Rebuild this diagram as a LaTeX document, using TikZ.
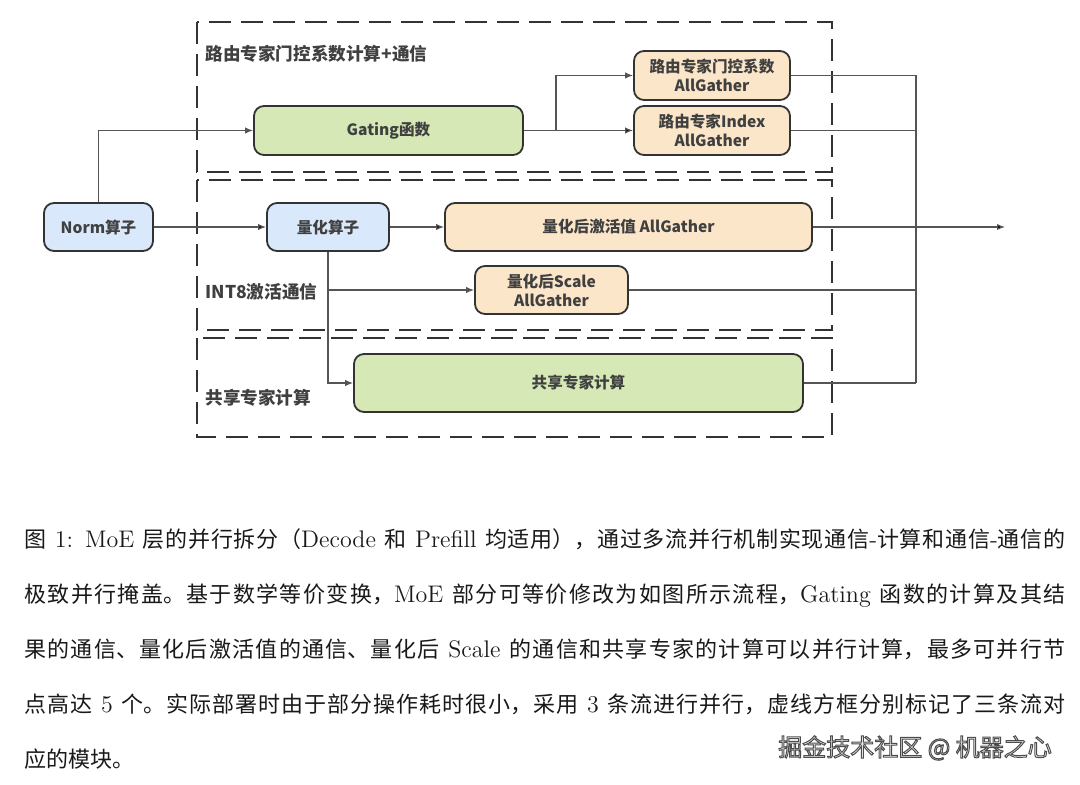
\documentclass[tikz,border=0pt]{standalone}
\usepackage{fontspec}
\usepackage{xcolor}
\usepackage{tikz}
\usetikzlibrary{arrows.meta}
\newfontfamily\cjk{Noto Sans CJK SC}
\newcommand\cc{\cjk\fontsize{11}{27.6}\selectfont}
\definecolor{quantblue}{HTML}{DAE8FC}
\definecolor{gategreen}{HTML}{D5E8B6}
\definecolor{commorange}{HTML}{FCE6C9}
\definecolor{inkgray}{HTML}{404040}
\definecolor{wiregray}{HTML}{555555}
\XeTeXlinebreaklocale "zh"
\XeTeXlinebreakskip=0pt plus 2pt
\tolerance=9999

\tikzset{
	op/.style={draw=black!80, line width=0.9pt, rounded corners=5pt, inner sep=0pt,
		align=center, text=inkgray, font=\cjk\bfseries\fontsize{7.8}{9.5}\selectfont},
	stream/.style={draw=black!80, line width=1.2pt, dash pattern=on 11pt off 5pt},
	streamlabel/.style={anchor=west, inner sep=0pt, text=inkgray,
		font=\cjk\bfseries\fontsize{8.8}{10}\selectfont},
	wire/.style={draw=wiregray, line width=0.6pt},
	>={Latex[length=4pt,width=3.2pt]}
}

\begin{document}
\begin{tikzpicture}[x=0.5pt,y=-0.5pt]
		\useasboundingbox (0,0) rectangle (1080,785);
		% dashed stream boxes
		\draw[stream] (197,22) rectangle (832,172);
		\draw[stream] (197,180) rectangle (832,330);
		\draw[stream] (197,338) rectangle (832,437);
		\node[streamlabel] (L1) at (205,54) {路由专家门控系数计算+通信};
		\node[streamlabel] (L2) at (205,292) {INT8激活通信};
		\node[streamlabel] (L3) at (205,398) {共享专家计算};
		%
		\node[op, fill=quantblue, minimum width=54.5pt, minimum height=24pt] (N) at (98.5,227) {Norm算子};
		\node[op, fill=gategreen, minimum width=134.5pt, minimum height=24.5pt] (G) at (388.5,130.5) {Gating函数};
		\node[op, fill=commorange, minimum width=78pt, minimum height=24.5pt] (R1) at (712,75.5) {路由专家门控系数\\AllGather};
		\node[op, fill=commorange, minimum width=78pt, minimum height=24.5pt] (R2) at (712,130.5) {路由专家Index\\AllGather};
		\node[op, fill=quantblue, minimum width=61pt, minimum height=24pt] (Q) at (328,227) {量化算子};
		\node[op, fill=commorange, minimum width=183.5pt, minimum height=24pt] (A) at (628.5,227) {量化后激活值 AllGather};
		\node[op, fill=commorange, minimum width=76.5pt, minimum height=24pt] (S) at (551.5,290) {量化后Scale\\AllGather};
		\node[op, fill=gategreen, minimum width=224.5pt, minimum height=29pt] (E) at (578.5,383) {共享专家计算};
		%
		\coordinate (g) at (556,130.5);
		\coordinate (o) at (916,383);
		\coordinate (out) at (1005,227);
		%
		\path[->, wire]
		% horizontal arrows
		(N) edge (Q)
		(Q) edge (A)
		(G) edge (R2)
		(A) edge (out);
		% elbow arrows
		\draw[->, wire] (N.north) |- (G.west);
		\draw[->, wire] (g) |- (R1.west);
		\draw[->, wire] (Q.south) |- (S.west);
		\draw[->, wire] (Q.south) |- (E.west);
		% outputs to the bus
		\draw[wire] (R1.east) -| (o);
		\draw[wire] (R2.east) -- (R2.east -| o);
		\draw[wire] (S.east) -- (S.east -| o);
		\draw[wire] (E.east) -- (o);
		%
		\node[anchor=base west, inner sep=0pt, text width=520.5pt, align=justify,
			text=black!90, font=\fontsize{12}{27.6}\selectfont] (cap) at (24,547)
		{{\cc 图}~1: MoE {\cc 层的并行拆分（}Decode {\cc 和} Prefill {\cc 均适用），通过多流并行机制实现通信}-{\cc 计算和通信}-{\cc 通信的}\linebreak
		{\cc 极致并行掩盖。基于数学等价变换，}MoE {\cc 部分可等价修改为如图所示流程，}Gating {\cc 函数的计算及其结}\linebreak
		{\cc 果的通信、量化后激活值的通信、量化后} Scale {\cc 的通信和共享专家的计算可以并行计算，最多可并行节}\linebreak
		{\cc 点高达} 5 {\cc 个。实际部署时由于部分操作耗时很小，采用} 3 {\cc 条流进行并行，虚线方框分别标记了三条流对}\linebreak
		{\cc 应的模块。}};
		\node[inner sep=0pt, text=black!4, font=\cjk\fontsize{12}{12}\selectfont] (wm) at (915,748)
		{\special{pdf:literal direct 2 Tr 0.5 w 0.3 G}掘金技术社区 @ 机器之心\special{pdf:literal direct 0 Tr}};
	\end{tikzpicture}
\end{document}
